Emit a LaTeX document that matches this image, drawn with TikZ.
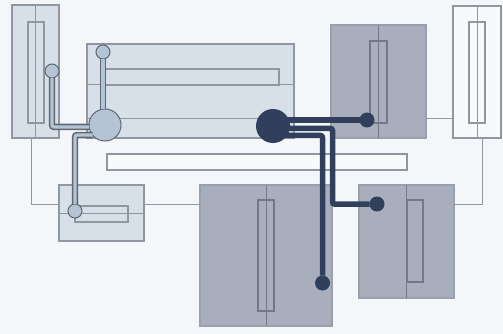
\documentclass[tikz,border=0pt]{standalone}
\usetikzlibrary{positioning}

\definecolor{pagebg}{HTML}{F4F7FA}
\definecolor{edgegray}{HTML}{92979F}
\definecolor{lightfill}{HTML}{D7E0E8}
\definecolor{darkfill}{HTML}{A9AEBC}
\definecolor{darkedge}{HTML}{9A9FAD}
\definecolor{palefill}{HTML}{F7F9FB}
\definecolor{portlight}{HTML}{B4C4D5}
\definecolor{tracedark}{HTML}{2F3F5C}
\definecolor{tracegray}{HTML}{5E6873}
\definecolor{slotgray}{HTML}{727885}

\begin{document}
\begin{tikzpicture}[
    x=1pt, y=-1pt,
    every node/.style={inner sep=0pt, outer sep=0pt},
    block/.style={rectangle, draw=edgegray, line width=1.2pt},
    lightblock/.style={block, fill=lightfill},
    darkblock/.style={block, draw=darkedge, fill=darkfill},
    paleblock/.style={block, fill=palefill},
    slot/.style={rectangle, draw=edgegray, line width=1.2pt},
    darkslot/.style={rectangle, draw=slotgray, line width=1.2pt},
    link/.style={draw=edgegray, line width=1pt},
    darklink/.style={draw=slotgray, line width=1pt},
    lighttrace/.style={draw=tracegray, line width=1.6pt, double=portlight, double distance=3.2pt, rounded corners=2pt},
    darktrace/.style={draw=tracedark, line width=5.5pt, rounded corners=2pt},
    lightport/.style={circle, draw=tracegray, line width=1pt, fill=portlight},
    darkport/.style={circle, fill=tracedark}
]
\useasboundingbox[fill=pagebg] (0,0) rectangle (503,334);

\node[lightblock, minimum width=47pt, minimum height=133pt] (leftbox) at (35.5,71.5) {};
\node[slot, minimum width=16pt, minimum height=101pt] (leftslot) at (36,72.5) {};
\draw[link] (leftbox.north) -- (leftbox.south);

\node[lightblock, minimum width=207pt, minimum height=94pt] (mainbox) at (190.5,91) {};
\draw[link] (mainbox.west |- 0,85) -- (mainbox.east |- 0,85);
\draw[link] (mainbox.west |- 0,119) -- (mainbox.east |- 0,119);
\node[slot, minimum width=176pt, minimum height=16pt] (mainslot) at (191,77) {};

\node[paleblock, minimum width=300pt, minimum height=16pt] (stripbox) at (257,162) {};

\node[darkblock, minimum width=95pt, minimum height=113pt] (topbox) at (378.5,81.5) {};
\node[darkslot, minimum width=17pt, minimum height=82pt] (topslot) at (378.5,82) {};
\draw[darklink] (topbox.north) -- (topbox.south);

\node[paleblock, minimum width=48pt, minimum height=132pt] (farbox) at (477,72) {};
\node[slot, minimum width=16pt, minimum height=101pt] (farslot) at (477,72.5) {};
\draw[link] (farbox.north) -- (farbox.south);

\node[lightblock, minimum width=85pt, minimum height=56pt] (lowbox) at (101.5,213) {};
\node[slot, minimum width=53pt, minimum height=16pt] (lowslot) at (101.5,214) {};
\draw[link] (lowbox.west) -- (lowbox.east);

\node[darkblock, minimum width=132pt, minimum height=141pt] (bigbox) at (266,255.5) {};
\node[darkslot, minimum width=16pt, minimum height=111pt] (bigslot) at (266,255.5) {};
\draw[darklink] (bigbox.north) -- (bigbox.south);

\node[darkblock, minimum width=95pt, minimum height=113pt] (sidebox) at (406.5,241.5) {};
\node[darkslot, minimum width=16pt, minimum height=82pt] (sideslot) at (415,241) {};
\draw[darklink] (sidebox.north) -- (sidebox.south);

% thin links
\draw[link] ([xshift=-4.5pt]leftbox.south) |- ([yshift=8.5pt]lowbox.west);
\draw[link] ([yshift=8.5pt]lowbox.east) -- ([yshift=51pt]bigbox.west);
\draw[link] ([yshift=-37.5pt]topbox.east) -- ([yshift=-47pt]farbox.west);
\draw[link] ([xshift=5pt]farbox.south) |- ([yshift=37pt]sidebox.east);

% ports
\node[lightport, minimum size=32pt] (hublight) at (105,125) {};
\node[lightport, minimum size=14pt] (portleft) at (52,71) {};
\node[lightport, minimum size=14pt] (porttop) at (103,52) {};
\node[lightport, minimum size=14pt] (portlow) at (75,211) {};
\node[darkport, minimum size=34pt] (hubdark) at (273,126) {};
\node[darkport, minimum size=15pt] (porttopbox) at (367,120) {};
\node[darkport, minimum size=15pt] (portside) at (377,204) {};
\node[darkport, minimum size=15pt] (portbig) at (322.5,283) {};

% traces
\draw[lighttrace] (portleft.south) |- (hublight.187);
\draw[lighttrace] (porttop.south) -- (porttop.south |- hublight.north);
\draw[lighttrace] (portlow.north) |- (hublight.219);

\draw[darktrace] (hubdark.center |- porttopbox) -- (porttopbox);
\draw[darktrace] ([yshift=-2.5pt]hubdark.center) -| ([xshift=-44.5pt]portside.center) -- (portside);
\draw[darktrace] ([yshift=-9.5pt]hubdark.center) -| (portbig);
\end{tikzpicture}
\end{document}
